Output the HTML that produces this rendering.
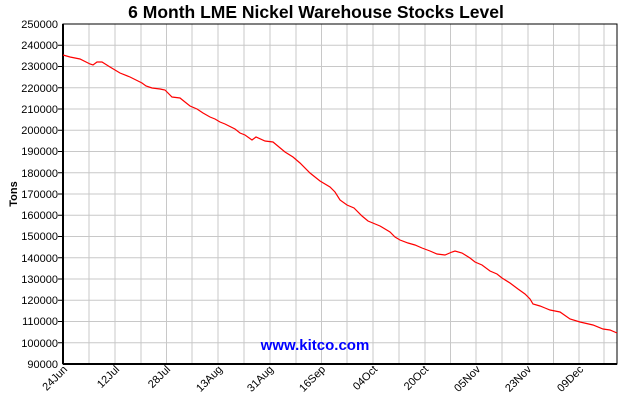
<!DOCTYPE html>
<html><head><meta charset="utf-8"><style>
body{margin:0;background:#fff}
svg text{font-family:"Liberation Sans",Arial,sans-serif}
</style></head><body>
<svg width="630" height="400" xmlns="http://www.w3.org/2000/svg">
<rect width="630" height="400" fill="#fff"/>
<text x="316" y="18" font-size="17.5" font-weight="bold" text-anchor="middle" fill="#000">6 Month LME Nickel Warehouse Stocks Level</text>
<g stroke="#c8c8c8" stroke-width="1">
<line x1="89" y1="24" x2="89" y2="364"/><line x1="115" y1="24" x2="115" y2="364"/><line x1="141" y1="24" x2="141" y2="364"/><line x1="166.5" y1="24" x2="166.5" y2="364"/><line x1="192" y1="24" x2="192" y2="364"/><line x1="218" y1="24" x2="218" y2="364"/><line x1="244" y1="24" x2="244" y2="364"/><line x1="270" y1="24" x2="270" y2="364"/><line x1="296" y1="24" x2="296" y2="364"/><line x1="321.5" y1="24" x2="321.5" y2="364"/><line x1="347" y1="24" x2="347" y2="364"/><line x1="373" y1="24" x2="373" y2="364"/><line x1="399" y1="24" x2="399" y2="364"/><line x1="425" y1="24" x2="425" y2="364"/><line x1="450.5" y1="24" x2="450.5" y2="364"/><line x1="476" y1="24" x2="476" y2="364"/><line x1="502" y1="24" x2="502" y2="364"/><line x1="528" y1="24" x2="528" y2="364"/><line x1="553.5" y1="24" x2="553.5" y2="364"/><line x1="579" y1="24" x2="579" y2="364"/><line x1="604" y1="24" x2="604" y2="364"/>
<line x1="63" y1="45.25" x2="617" y2="45.25"/><line x1="63" y1="66.5" x2="617" y2="66.5"/><line x1="63" y1="87.75" x2="617" y2="87.75"/><line x1="63" y1="109" x2="617" y2="109"/><line x1="63" y1="130.25" x2="617" y2="130.25"/><line x1="63" y1="151.5" x2="617" y2="151.5"/><line x1="63" y1="172.75" x2="617" y2="172.75"/><line x1="63" y1="194" x2="617" y2="194"/><line x1="63" y1="215.25" x2="617" y2="215.25"/><line x1="63" y1="236.5" x2="617" y2="236.5"/><line x1="63" y1="257.75" x2="617" y2="257.75"/><line x1="63" y1="279" x2="617" y2="279"/><line x1="63" y1="300.25" x2="617" y2="300.25"/><line x1="63" y1="321.5" x2="617" y2="321.5"/><line x1="63" y1="342.75" x2="617" y2="342.75"/>
</g>
<rect x="63" y="24" width="554" height="340" fill="none" stroke="#000" stroke-width="1"/>
<line x1="63" y1="24" x2="63" y2="364" stroke="#000" stroke-width="2"/>
<line x1="63" y1="364" x2="617" y2="364" stroke="#000" stroke-width="2"/>
<g font-size="11" text-anchor="end" fill="#000">
<text x="58" y="28">250000</text><text x="58" y="49">240000</text><text x="58" y="70">230000</text><text x="58" y="92">220000</text><text x="58" y="113">210000</text><text x="58" y="134">200000</text><text x="58" y="155">190000</text><text x="58" y="177">180000</text><text x="58" y="198">170000</text><text x="58" y="219">160000</text><text x="58" y="240">150000</text><text x="58" y="262">140000</text><text x="58" y="283">130000</text><text x="58" y="304">120000</text><text x="58" y="325">110000</text><text x="58" y="347">100000</text><text x="58" y="368">90000</text>
</g>
<g stroke="#000"><line x1="58" y1="45.25" x2="63" y2="45.25"/><line x1="58" y1="66.5" x2="63" y2="66.5"/><line x1="58" y1="87.75" x2="63" y2="87.75"/><line x1="58" y1="109" x2="63" y2="109"/><line x1="58" y1="130.25" x2="63" y2="130.25"/><line x1="58" y1="151.5" x2="63" y2="151.5"/><line x1="58" y1="172.75" x2="63" y2="172.75"/><line x1="58" y1="194" x2="63" y2="194"/><line x1="58" y1="215.25" x2="63" y2="215.25"/><line x1="58" y1="236.5" x2="63" y2="236.5"/><line x1="58" y1="257.75" x2="63" y2="257.75"/><line x1="58" y1="279" x2="63" y2="279"/><line x1="58" y1="300.25" x2="63" y2="300.25"/><line x1="58" y1="321.5" x2="63" y2="321.5"/><line x1="58" y1="342.75" x2="63" y2="342.75"/></g>
<text transform="translate(17,194) rotate(-90)" font-size="11" font-weight="bold" text-anchor="middle">Tons</text>
<g font-size="11" text-anchor="end" fill="#000">
<text transform="translate(68,370) rotate(-45)">24Jun</text>
<text transform="translate(120,370) rotate(-45)">12Jul</text>
<text transform="translate(171,370) rotate(-45)">28Jul</text>
<text transform="translate(223,370) rotate(-45)">13Aug</text>
<text transform="translate(274,370) rotate(-45)">31Aug</text>
<text transform="translate(326,370) rotate(-45)">16Sep</text>
<text transform="translate(378,370) rotate(-45)">04Oct</text>
<text transform="translate(429,370) rotate(-45)">20Oct</text>
<text transform="translate(481,370) rotate(-45)">05Nov</text>
<text transform="translate(532,370) rotate(-45)">23Nov</text>
<text transform="translate(584,370) rotate(-45)">09Dec</text>
</g>
<text x="315" y="350" font-size="15" font-weight="bold" fill="#0000ff" text-anchor="middle">www.kitco.com</text>
<polyline fill="none" stroke="#ff0000" stroke-width="1.2" points="63,55 70,57 80,59 90,64 93,65 97,62 102,62 110,67 120,73 130,77 138,81 142,83 146,86 152,88 160,89 165,90 172,97 180,98 185,102 190,106 197,109 203,113 210,117 215,119 220,122 225,124 235,129 240,133 245,135 252,140 256,137 265,141 273,142 285,152 293,157 300,163 310,173 320,181 330,187 335,192 340,200 347,205 354,208 362,216 368,221 380,226 390,232 395,237 400,240 408,243 415,245 422,248 430,251 437,254 445,255 452,252 455,251 462,253 470,258 475,262 482,265 490,271 497,274 502,278 510,283 518,289 525,294 530,299 533,304 540,306 545,308 550,310 560,312 570,319 580,322 593,325 603,329 610,330 617,333"/>
</svg>
</body></html>
